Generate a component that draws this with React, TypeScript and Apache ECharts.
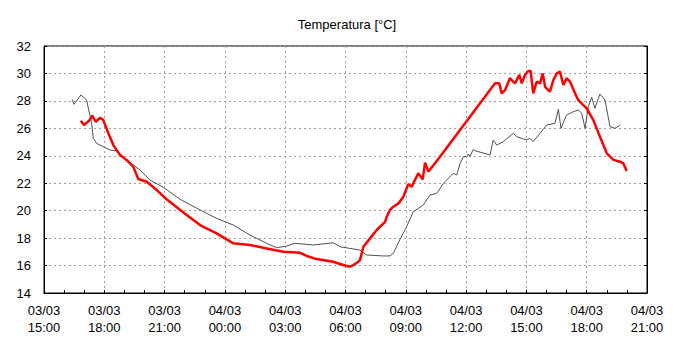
import React, { useEffect, useRef } from "react";
import * as echarts from "echarts";

const titleText = "Temperatura [°C]";
const xTickLabels = [
  "03/03\n15:00", "03/03\n18:00", "03/03\n21:00", "04/03\n00:00", "04/03\n03:00", "04/03\n06:00",
  "04/03\n09:00", "04/03\n12:00", "04/03\n15:00", "04/03\n18:00", "04/03\n21:00",
];

// hours since 03/03 15:00
const grayHours = [
  1.41, 1.49, 1.84, 2.12, 2.37, 2.45, 2.62, 2.95, 3.28, 3.62, 4.11, 4.78, 5.27, 5.94, 6.77,
  7.76, 8.59, 9.42, 10.25, 11.08, 11.58, 12.07, 12.49, 13.4, 14.39, 14.73, 15.22, 15.72, 16.05,
  16.88, 17.21, 17.38, 17.71, 18.04, 18.37, 18.87, 19.2, 19.54, 19.87, 20.36, 20.53, 20.7,
  20.86, 21.03, 21.11, 21.19, 21.36, 21.44, 22.19, 22.35, 22.52, 22.85, 23.35, 23.52, 24.01,
  24.18, 24.34, 24.68, 25.01, 25.42, 25.59, 25.72, 26.0, 26.33, 26.58, 26.75, 26.92, 27.08,
  27.25, 27.41, 27.66, 27.91, 28.16, 28.41, 28.66,
];
const grayValues = [
  28.1, 27.75, 28.43, 28.06, 26.36, 25.27, 24.9, 24.66, 24.42, 24.35, 23.7, 22.96, 22.23, 21.7, 20.83,
  20.05, 19.44, 18.95, 18.22, 17.62, 17.3, 17.42, 17.62, 17.5, 17.66, 17.37, 17.25, 17.13, 16.77,
  16.7, 16.7, 16.89, 17.9, 18.83, 19.92, 20.41, 21.14, 21.26, 21.99, 22.72, 22.6, 23.45,
  23.93, 23.93, 24.13, 23.95, 24.47, 24.37, 24.06, 25.15, 24.78, 25.03, 25.64, 25.39, 25.15,
  25.27, 25.03, 25.64, 26.24, 26.36, 27.38, 26.0, 26.97, 27.21, 27.34, 27.1, 26.0, 27.58,
  28.26, 27.46, 28.5, 28.06, 26.12, 26.0, 26.24,
];

const redHours = [
  1.83, 1.99, 2.25, 2.4, 2.57, 2.79, 2.95, 3.2, 3.45, 3.78, 4.11, 4.44, 4.69, 5.11, 5.61, 6.1,
  7.0, 7.76, 8.59, 9.42, 10.25, 11.08, 11.91, 12.74, 13.07, 13.57, 14.39, 14.73, 15.06, 15.22,
  15.39, 15.64, 15.72, 15.89, 16.22, 16.55, 16.97, 17.05, 17.21, 17.38, 17.63, 17.88, 18.12,
  18.29, 18.62, 18.84, 18.96, 19.12, 19.7, 22.44, 22.65, 22.77, 22.94,
  23.18, 23.43, 23.65, 23.77, 23.93, 24.09, 24.21, 24.34, 24.51, 24.68, 24.81, 24.93, 25.17,
  25.34, 25.51, 25.67, 25.84, 26.0, 26.17, 26.42, 26.58, 27.0, 27.33, 27.66, 28.0, 28.33,
  28.66, 28.82, 28.99,
];
const redValues = [
  26.56, 26.24, 26.56, 26.92, 26.48, 26.77, 26.6, 25.64, 24.78, 24.06, 23.7, 23.2, 22.31, 22.11, 21.5, 20.83,
  19.8, 18.95, 18.35, 17.62, 17.5, 17.25, 17.0, 16.93, 16.7, 16.47, 16.28, 16.11, 15.97, 15.92,
  16.04, 16.28, 16.4, 17.37, 17.98, 18.59, 19.19, 19.56, 20.05, 20.29, 20.53, 21.02, 21.92,
  21.75, 22.72, 22.28, 23.5, 22.84, 23.93, 29.28, 29.28, 28.55, 28.79,
  29.65, 29.28, 29.89, 29.28, 29.89, 30.18, 30.18, 28.55, 29.4, 29.28, 30.0, 29.03, 28.67,
  29.52, 30.0, 30.13, 29.16, 29.65, 29.4, 28.55, 28.06, 27.46, 26.6, 25.39, 24.18, 23.7,
  23.57, 23.45, 22.89,
];

const FONT = "'Liberation Sans', Arial, sans-serif";

export default function App() {
  const ref = useRef<HTMLDivElement>(null);
  useEffect(() => {
    const chart = echarts.init(ref.current!, null, { renderer: "svg" });
    const axisText = { color: "#000", fontFamily: FONT, fontSize: 13 };
    chart.setOption({
      animation: false,
      backgroundColor: "#fff",
      title: {
        text: titleText,
        left: 342,
        textAlign: "center",
        top: 13,
        textStyle: { color: "#000", fontFamily: FONT, fontSize: 13, fontWeight: "normal" },
      },
      grid: {
        left: 44,
        right: 28,
        top: 46,
        bottom: 61,
        show: true,
        borderColor: "#000",
        borderWidth: 1,
      },
      xAxis: {
        type: "value",
        min: 0,
        max: 30,
        interval: 3,
        axisLine: { show: true, lineStyle: { color: "#000", width: 1 } },
        axisTick: { show: true, inside: true, length: 3, lineStyle: { color: "#000" } },
        minorTick: { show: true, splitNumber: 3, length: 3, lineStyle: { color: "#000" } },
        splitLine: { show: true, lineStyle: { color: "#a0a0a0", type: [2, 3], width: 1 } },
        axisLabel: {
          ...axisText,
          margin: 9,
          lineHeight: 17,
          formatter: (v: number) => xTickLabels[Math.round(v / 3)] ?? "",
        },
      },
      yAxis: [
        {
          type: "value",
          min: 14,
          max: 32,
          interval: 2,
          axisLine: { show: true, lineStyle: { color: "#000", width: 1 } },
          axisTick: { show: true, inside: true, length: 3, lineStyle: { color: "#000" } },
          splitLine: { show: true, lineStyle: { color: "#a0a0a0", type: [2, 3], width: 1 } },
          axisLabel: { ...axisText, margin: 13 },
        },
        {
          type: "value",
          position: "right",
          min: 14,
          max: 32,
          interval: 2,
          axisLine: { show: true, lineStyle: { color: "#000", width: 1 } },
          axisTick: { show: true, inside: true, length: 3, lineStyle: { color: "#000" } },
          splitLine: { show: false },
          axisLabel: { show: false },
        },
      ],
      series: [
        {
          type: "line",
          data: grayHours.map((h, i) => [h, grayValues[i]]),
          showSymbol: false,
          symbol: "none",
          lineStyle: { color: "#505050", width: 1 },
        },
        {
          type: "line",
          data: redHours.map((h, i) => [h, redValues[i]]),
          showSymbol: false,
          symbol: "none",
          lineStyle: { color: "#ff0000", width: 2.5 },
        },
      ],
    });
    return () => chart.dispose();
  }, []);
  return (
    <div
      ref={ref}
      style={{ position: "fixed", left: 0, top: 0, width: 675, height: 354, background: "#fff" }}
    />
  );
}
